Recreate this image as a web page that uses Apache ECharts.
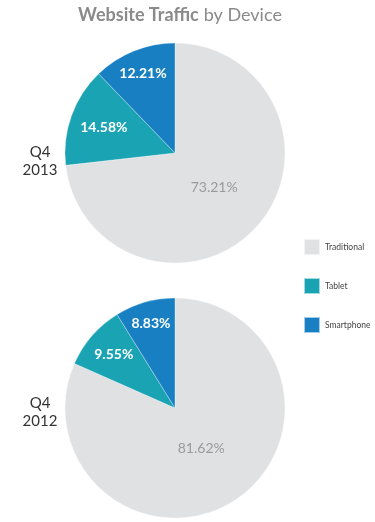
<!DOCTYPE html>
<html><head><meta charset="utf-8">
<script src="https://cdn.jsdelivr.net/npm/echarts@6/dist/echarts.min.js"></script>
<style>html,body{margin:0;padding:0;background:#fff}#c{width:375px;height:522px}</style>
</head><body><div id="c"></div>
<script>
const categories = ['Traditional', 'Tablet', 'Smartphone'];
const values2013 = [73.21, 14.58, 12.21];
const values2012 = [81.62, 9.55, 8.83];
const periodLabels = ['Q4\n2013', 'Q4\n2012'];
const colors = ['#e0e1e3', '#1aa3b3', '#1880c2'];

const R = 110;
const labelR = [[0.45, 0.66, 0.75], [0.41, 0.71, 0.77]];

function buildData(vals, k) {
  const total = vals.reduce((a, b) => a + b, 0);
  let cum = 0;
  return vals.map((v, i) => {
    const mid = (cum + v / 2) / total * 2 * Math.PI;
    cum += v;
    const d = (labelR[k][i] - 0.5) * R;
    const off = [Math.sin(mid) * d, -Math.cos(mid) * d];
    const big = i === 0;
    return {
      name: categories[i], value: v,
      itemStyle: { color: colors[i] },
      label: {
        offset: off,
        color: big ? '#9a9a9a' : '#ffffff',
        fontWeight: big ? 'normal' : 'bold',
        fontSize: 14
      }
    };
  });
}

function pie(vals, k, cy) {
  return {
    type: 'pie', center: [175, cy], radius: [0, R],
    startAngle: 90, clockwise: true, animation: false,
    silent: true,
    itemStyle: { borderColor: 'rgba(255,255,255,0.6)', borderWidth: 0.5 },
    label: {
      show: true, position: 'inside', fontFamily: 'Lato',
      formatter: p => p.value.toFixed(2) + '%'
    },
    labelLine: { show: false },
    data: buildData(vals, k)
  };
}

const periodStyle = { fontFamily: 'Lato', fontWeight: 'normal', fontSize: 15, lineHeight: 18, color: '#333', align: 'center' };

const chart = echarts.init(document.getElementById('c'), null, { renderer: 'canvas' });
chart.setOption({
  backgroundColor: '#fff',
  title: [
    {
      text: '{b|Website Traffic} {n|by Device}',
      left: 175, top: 1, textAlign: 'center',
      textStyle: {
        rich: {
          b: { fontFamily: 'Lato', fontWeight: 'bold', fontSize: 18, color: '#8a8a8a' },
          n: { fontFamily: 'Lato', fontWeight: 'normal', fontSize: 18, color: '#8a8a8a' }
        }
      }
    },
    { text: periodLabels[0], left: 35, top: 138, textAlign: 'center', textStyle: periodStyle },
    { text: periodLabels[1], left: 35, top: 389, textAlign: 'center', textStyle: periodStyle }
  ],
  legend: {
    orient: 'vertical', left: 303, top: 238, padding: 0,
    itemWidth: 16, itemHeight: 16, itemGap: 21, icon: 'rect',
    selectedMode: false,
    textStyle: { fontFamily: 'Lato', fontSize: 8.5, color: '#444', width: 60, overflow: 'none' },
    data: categories
  },
  series: [pie(values2013, 0, 153), pie(values2012, 1, 408)]
});
</script></body></html>
